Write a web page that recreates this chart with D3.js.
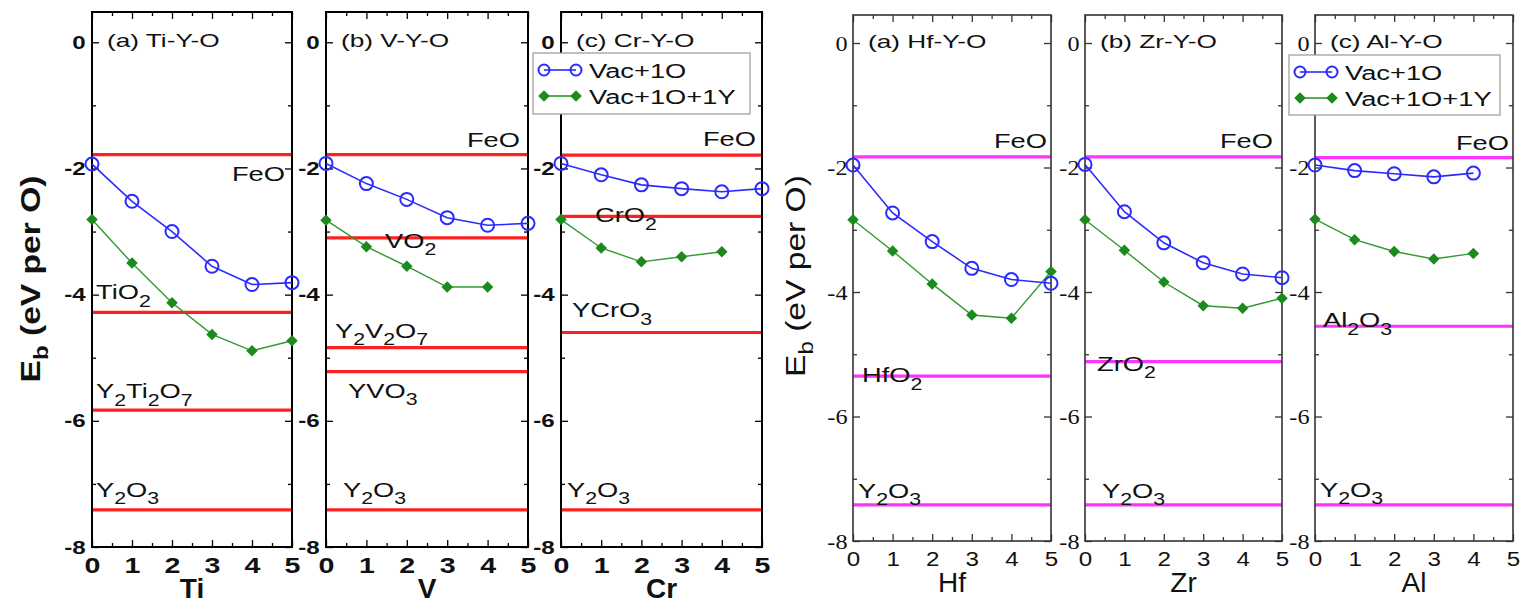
<!DOCTYPE html>
<html>
<head>
<meta charset="utf-8">
<script src="https://cdn.jsdelivr.net/npm/d3@7"></script>
<style>
  body { margin: 0; background: #fff; }
  svg { display: block; }
</style>
</head>
<body>
<svg id="chart" width="1526" height="606"></svg>
<script>
// number of solute atoms (x axis)
const soluteCounts = [0, 1, 2, 3, 4, 5];
const xTicks = [0, 1, 2, 3, 4, 5];
const yTicks = [0, -2, -4, -6, -8];
const seriesNames = ['Vac+1O', 'Vac+1O+1Y'];

// binding energies (eV per O)
const tiVac = [-1.93, -2.52, -3.0, -3.55, -3.84, -3.81];
const tiVacY = [-2.81, -3.5, -4.13, -4.63, -4.89, -4.73];
const vVac = [-1.92, -2.24, -2.49, -2.78, -2.9, -2.87];
const vVacY = [-2.82, -3.24, -3.55, -3.88, -3.88];
const crVac = [-1.92, -2.1, -2.26, -2.32, -2.37, -2.32];
const crVacY = [-2.81, -3.26, -3.48, -3.4, -3.32];
const hfVac = [-1.96, -2.73, -3.19, -3.62, -3.8, -3.86];
const hfVacY = [-2.84, -3.34, -3.87, -4.37, -4.42, -3.67];
const zrVac = [-1.95, -2.71, -3.21, -3.53, -3.71, -3.77];
const zrVacY = [-2.84, -3.33, -3.84, -4.22, -4.26, -4.1];
const alVac = [-1.96, -2.05, -2.1, -2.15, -2.09];
const alVacY = [-2.83, -3.16, -3.35, -3.47, -3.38];

// reference oxide energies (horizontal lines)
const tiPhases = ['FeO', 'TiO2', 'Y2Ti2O7', 'Y2O3'];
const tiPhaseE = [-1.78, -4.28, -5.83, -7.41];
const vPhases = ['FeO', 'VO2', 'Y2V2O7', 'YVO3', 'Y2O3'];
const vPhaseE = [-1.78, -3.1, -4.84, -5.22, -7.41];
const crPhases = ['FeO', 'CrO2', 'YCrO3', 'Y2O3'];
const crPhaseE = [-1.79, -2.76, -4.6, -7.41];
const hfPhases = ['FeO', 'HfO2', 'Y2O3'];
const hfPhaseE = [-1.83, -5.35, -7.42];
const zrPhases = ['FeO', 'ZrO2', 'Y2O3'];
const zrPhaseE = [-1.83, -5.12, -7.42];
const alPhases = ['FeO', 'Al2O3', 'Y2O3'];
const alPhaseE = [-1.84, -4.55, -7.42];

const titles = ['(a) Ti-Y-O', '(b) V-Y-O', '(c) Cr-Y-O', '(a) Hf-Y-O', '(b) Zr-Y-O', '(c) Al-Y-O'];
const elements = ['Ti', 'V', 'Cr', 'Hf', 'Zr', 'Al'];

// mise en page
const SX = 1.3; // le texte de la figure est étiré horizontalement
const SANS = 'Liberation Sans, Arial, sans-serif';
const groups = [
    { top: 12, bottom: 547, yMax: 0.48, lineColor: '#ff1f1f', frame: '#000', frameW: 2,
      tickFont: SANS, tickWeight: 'bold', ySize: 19, ySX: 1.27, xSize: 22, xSX: 1.3,
      titleWeight: 'bold', ylabX: 30, ylabY: 279 },
    { top: 15, bottom: 541, yMax: 0.45, lineColor: '#ff33ff', frame: '#333', frameW: 1.6,
      tickFont: 'Liberation Serif, Times New Roman, serif', tickWeight: 'normal', ySize: 22, ySX: 1.1,
      xSize: 21, xSX: 1.15, titleWeight: 'normal', ylabX: 795, ylabY: 276 }
];

const panels = [
    { left: 92, right: 292, group: 0, vac: tiVac, vacY: tiVacY, phases: tiPhases, energies: tiPhaseE,
      place: [['end', -7, 26], ['start', 4, -13], ['start', 4, -12], ['start', 4, -13]] },
    { left: 326, right: 528, group: 0, vac: vVac, vacY: vVacY, phases: vPhases, energies: vPhaseE,
      place: [['end', -8, -8], ['start', 59, 10], ['start', 9, -10], ['start', 22, 26], ['start', 17, -13]] },
    { left: 561, right: 762, group: 0, vac: crVac, vacY: crVacY, phases: crPhases, energies: crPhaseE,
      place: [['end', -6, -9], ['start', 34, 6], ['start', 11, -15], ['start', 6, -13]],
      legend: { x: 533, y: 53, w: 217, h: 61 } },
    { left: 853, right: 1051, group: 1, vac: hfVac, vacY: hfVacY, phases: hfPhases, energies: hfPhaseE,
      place: [['end', -4, -9], ['start', 9, 6], ['start', 5, -7]] },
    { left: 1085, right: 1282, group: 1, vac: zrVac, vacY: zrVacY, phases: zrPhases, energies: zrPhaseE,
      place: [['end', -9, -9], ['start', 12, 9], ['start', 17, -7]] },
    { left: 1315, right: 1513, group: 1, vac: alVac, vacY: alVacY, phases: alPhases, energies: alPhaseE,
      place: [['end', -4, -8], ['start', 8, 1], ['start', 5, -8]],
      legend: { x: 1289, y: 55, w: 211, h: 60 } }
];

const blue = '#2b2bff';
const green = '#1c8a1c';
const greenLine = '#2f9a2f';

const svg = d3.select('#chart');

// texte avec indices chimiques (Y2O3 -> Y₂O₃)
function chemText(parent, label, x, y, anchor, size, sx) {
    const t = parent.append('text')
        .attr('transform', `translate(${x},${y}) scale(${sx},1)`)
        .attr('text-anchor', anchor)
        .style('font-family', SANS)
        .attr('font-size', size)
        .attr('fill', '#111');
    const parts = label.split(/(\d+)/).filter(p => p.length);
    let down = false;
    parts.forEach(p => {
        const isNum = /^\d+$/.test(p);
        const ts = t.append('tspan').text(p);
        if (isNum) {
            ts.attr('font-size', size * 0.78).attr('dy', down ? 0 : size * 0.36);
            down = true;
        } else {
            if (down) ts.attr('dy', -size * 0.36);
            down = false;
        }
    });
    return t;
}

// losange : carré tourné de 45°
const diamond = d3.symbol().type(d3.symbolSquare).size(66);

panels.forEach((p, i) => {
    const G = groups[p.group];
    const x = d3.scaleLinear().domain([0, 5]).range([p.left, p.right]);
    const y = d3.scaleLinear().domain([-8, G.yMax]).range([G.bottom, G.top]);
    const g = svg.append('g');

    // lignes des oxydes de référence
    g.selectAll('.phase')
        .data(p.energies)
        .enter().append('line')
        .attr('x1', x(0)).attr('x2', x(5))
        .attr('y1', d => y(d)).attr('y2', d => y(d))
        .attr('stroke', G.lineColor)
        .attr('stroke-width', 3.2);

    p.phases.forEach((name, k) => {
        const [anchor, dx, dy] = p.place[k];
        const px = anchor === 'end' ? p.right + dx : p.left + dx;
        chemText(g, name, px, y(p.energies[k]) + dy, anchor, 21, SX);
    });

    // axes (ticks vers l'intérieur)
    const h = G.bottom - G.top;
    const w = p.right - p.left;
    const fmt = d => d3.format('d')(d).replace('−', '-');

    const yLeft = g.append('g').attr('transform', `translate(${p.left},0)`)
        .call(d3.axisLeft(y).tickValues(yTicks).tickSize(-7).tickPadding(5).tickFormat(fmt));
    yLeft.selectAll('text')
        .style('font-family', G.tickFont).attr('font-weight', G.tickWeight)
        .attr('font-size', G.ySize).attr('fill', '#111')
        .attr('transform', `scale(${G.ySX},1)`);
    g.append('g').attr('transform', `translate(${p.left},0)`)
        .call(d3.axisLeft(y).tickValues([-1, -3, -5, -7]).tickSize(-4).tickFormat(''));
    g.append('g').attr('transform', `translate(${p.right},0)`)
        .call(d3.axisRight(y).tickValues(yTicks).tickSize(-7).tickFormat(''));
    g.append('g').attr('transform', `translate(${p.right},0)`)
        .call(d3.axisRight(y).tickValues([-1, -3, -5, -7]).tickSize(-4).tickFormat(''));

    const xBottom = g.append('g').attr('transform', `translate(0,${G.bottom})`)
        .call(d3.axisBottom(x).tickValues(xTicks).tickSize(-7).tickPadding(10).tickFormat(d3.format('d')));
    xBottom.selectAll('text')
        .style('font-family', SANS).attr('font-weight', G.tickWeight)
        .attr('font-size', G.xSize).attr('fill', '#111')
        .attr('transform', `scale(${G.xSX},1)`);
    g.append('g').attr('transform', `translate(0,${G.bottom})`)
        .call(d3.axisBottom(x).tickValues([0.5, 1.5, 2.5, 3.5, 4.5]).tickSize(-4).tickFormat(''));
    g.append('g').attr('transform', `translate(0,${G.top})`)
        .call(d3.axisTop(x).tickValues(xTicks).tickSize(-7).tickFormat(''));
    g.append('g').attr('transform', `translate(0,${G.top})`)
        .call(d3.axisTop(x).tickValues([0.5, 1.5, 2.5, 3.5, 4.5]).tickSize(-4).tickFormat(''));

    g.selectAll('.domain').remove();
    g.selectAll('.tick line').attr('stroke', G.frame).attr('stroke-width', 1.3);

    // cadre
    g.append('rect')
        .attr('x', p.left).attr('y', G.top)
        .attr('width', w).attr('height', h)
        .attr('fill', 'none')
        .attr('stroke', G.frame)
        .attr('stroke-width', G.frameW);

    // titre du panneau
    g.append('text')
        .attr('transform', `translate(${p.left + 15},${y(0) + 5}) scale(1.38,1)`)
        .style('font-family', SANS)
        .attr('font-size', 19).attr('fill', '#111')
        .text(titles[i]);

    // titre de l'axe x
    g.append('text')
        .attr('x', (p.left + p.right) / 2).attr('y', G.bottom + 51)
        .attr('text-anchor', 'middle')
        .style('font-family', SANS)
        .attr('font-weight', G.titleWeight)
        .attr('font-size', 28).attr('fill', '#111')
        .text(elements[i]);

    // séries
    const line = d3.line().x((d, j) => x(soluteCounts[j])).y(d => y(d));

    g.append('path').datum(p.vacY)
        .attr('d', line).attr('fill', 'none')
        .attr('stroke', greenLine).attr('stroke-width', 1.4);
    g.selectAll('.dia')
        .data(p.vacY)
        .enter().append('path')
        .attr('d', diamond)
        .attr('transform', (d, j) => `translate(${x(soluteCounts[j])},${y(d)}) rotate(45)`)
        .attr('fill', green);

    g.append('path').datum(p.vac)
        .attr('d', line).attr('fill', 'none')
        .attr('stroke', blue).attr('stroke-width', 1.6);
    g.selectAll('.circ')
        .data(p.vac)
        .enter().append('circle')
        .attr('cx', (d, j) => x(soluteCounts[j]))
        .attr('cy', d => y(d))
        .attr('r', 6.5)
        .attr('fill', 'none')
        .attr('stroke', blue).attr('stroke-width', 2);

    // légende
    if (p.legend) {
        const L = p.legend;
        const lg = svg.append('g');
        lg.append('rect')
            .attr('x', L.x).attr('y', L.y).attr('width', L.w).attr('height', L.h)
            .attr('fill', '#fff').attr('stroke', '#999').attr('stroke-width', 1.2);
        seriesNames.forEach((name, k) => {
            const cy = L.y + 17 + k * 26;
            const x0 = L.x + 11, x1 = L.x + 43;
            lg.append('line').attr('x1', x0).attr('x2', x1).attr('y1', cy).attr('y2', cy)
                .attr('stroke', k === 0 ? blue : greenLine).attr('stroke-width', 1.6);
            [x0, x1].forEach(cx => {
                if (k === 0) {
                    lg.append('circle').attr('cx', cx).attr('cy', cy).attr('r', 5.5)
                        .attr('fill', 'none').attr('stroke', blue).attr('stroke-width', 2);
                } else {
                    lg.append('path').attr('d', diamond)
                        .attr('transform', `translate(${cx},${cy}) rotate(45)`).attr('fill', green);
                }
            });
            lg.append('text')
                .attr('transform', `translate(${L.x + 56},${cy + 8}) scale(${SX},1)`)
                .style('font-family', SANS)
                .attr('font-size', 21).attr('fill', '#111')
                .text(name);
        });
    }
});

// titres de l'axe y : E_b (eV per O)
groups.forEach(G => {
    const t = svg.append('text')
        .attr('transform', `translate(${G.ylabX},${G.ylabY}) rotate(-90) scale(1.2,1)`)
        .attr('text-anchor', 'middle')
        .attr('dy', '0.35em')
        .style('font-family', SANS)
        .attr('font-weight', G.titleWeight)
        .attr('font-size', 28).attr('fill', '#111');
    t.append('tspan').text('E');
    t.append('tspan').attr('font-size', 20).attr('dy', 8).text('b');
    t.append('tspan').attr('dy', -8).text(' (eV per O)');
});
</script>
</body>
</html>
